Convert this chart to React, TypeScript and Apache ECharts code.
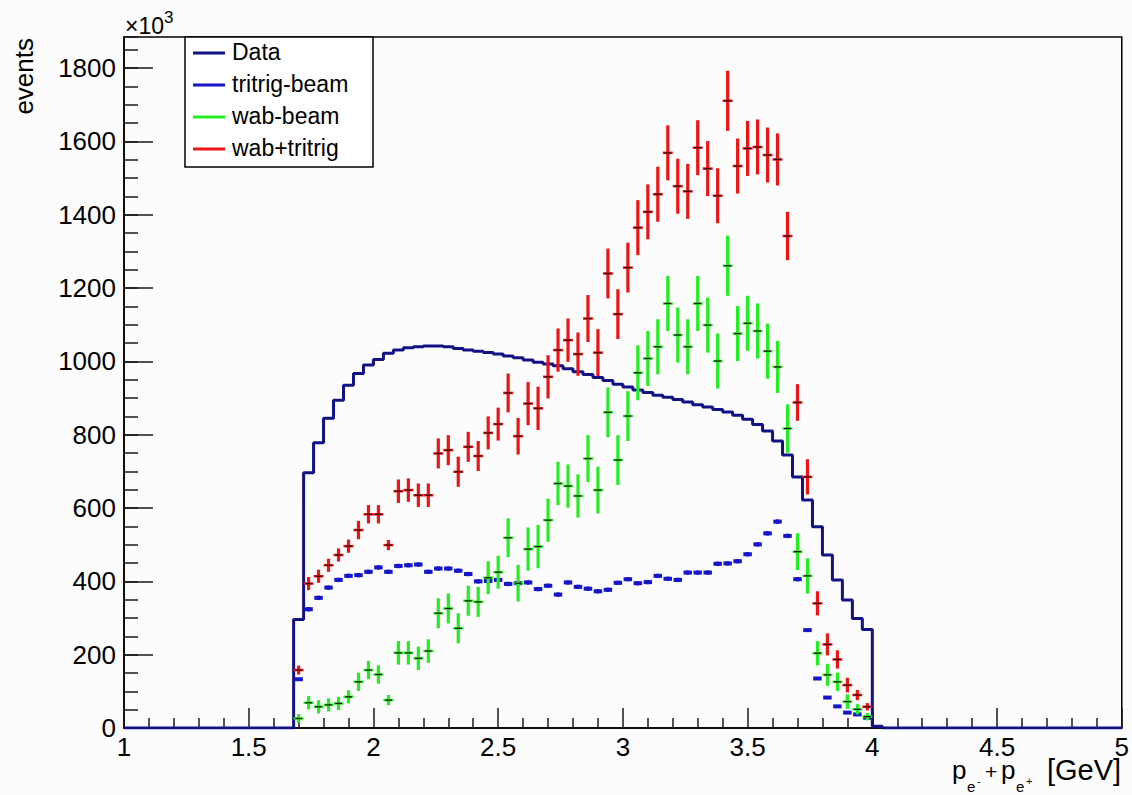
import React, { useEffect, useRef } from "react";
import * as echarts from "echarts";

// Histogram binning (GeV)
const axisMin = 1;
const axisMax = 5;
const binWidth = 0.04;
const firstFilledBin = 1.68; // low edge of first non-empty bin
const firstPointCenter = 1.7;

// "Data" histogram contents, bins starting at 1.68 GeV (x10^3 events)
const dataCounts = [
  296, 696, 778, 845, 894, 935, 967, 990, 1005, 1022,
  1031, 1037, 1040, 1042, 1042, 1040, 1035, 1031, 1028, 1024,
  1020, 1015, 1010, 1004, 998, 993, 988, 980, 972, 964,
  956, 948, 938, 930, 922, 915, 908, 902, 896, 889,
  882, 876, 869, 862, 853, 842, 828, 810, 783, 745,
  685, 622, 549, 472, 404, 349, 299, 269, 5,
];

// tritrig-beam points (bin centres from 1.70 GeV)
const tritrigBeam = [
  133, 324, 355, 383, 404, 415, 417, 426, 438, 426,
  442, 444, 446, 426, 435, 435, 429, 420, 400, 401,
  404, 393, 395, 397, 379, 388, 364, 397, 385, 380,
  373, 377, 396, 406, 395, 398, 415, 407, 404, 424,
  424, 424, 448, 449, 455, 474, 501, 531, 563, 524,
  406, 267, 135, 83, 59, 42, 37, 28,
];
const tritrigErr = [
  0, 6, 6, 6, 6, 6, 6, 6, 6, 6,
  6, 6, 6, 6, 6, 6, 6, 6, 6, 6,
  6, 6, 6, 6, 6, 6, 6, 6, 6, 6,
  6, 6, 6, 6, 6, 6, 6, 6, 6, 6,
  6, 6, 6, 6, 6, 6, 6, 6, 6, 6,
  6, 0, 0, 0, 0, 0, 0, 0,
];

// wab-beam points
const wabBeam = [
  26, 69, 58, 63, 67, 85, 126, 158, 146, 76,
  205, 205, 190, 210, 313, 326, 272, 347, 344, 410,
  425, 519, 395, 488, 495, 567, 667, 660, 633, 735,
  649, 861, 731, 851, 969, 1008, 1040, 1158, 1072, 1040,
  1158, 1099, 1001, 1261, 1076, 1104, 1083, 1028, 985, 817,
  481, 415, 204, 145, 126, 72, 51, 31,
];

// wab+tritrig points
const wabTritrig = [
  158, 394, 414, 444, 472, 496, 540, 583, 583, 499,
  646, 649, 635, 635, 749, 758, 699, 767, 742, 805,
  829, 914, 796, 885, 872, 958, 1031, 1058, 1020, 1117,
  1024, 1240, 1129, 1256, 1365, 1408, 1456, 1569, 1478, 1464,
  1583, 1526, 1452, 1711, 1533, 1581, 1585, 1563, 1551, 1342,
  888, 685, 340, 228, 187, 117, 90, 58,
];

// vertical error half-lengths
const wabErr = [
  12, 18, 18, 18, 18, 18, 25, 25, 25, 14,
  32, 32, 32, 32, 41, 41, 41, 41, 41, 45,
  45, 53, 50, 59, 59, 59, 59, 59, 59, 64,
  64, 68, 68, 68, 75, 75, 75, 75, 75, 75,
  75, 75, 75, 82, 75, 75, 75, 75, 71, 66,
  50, 48, 33, 30, 25, 20, 14, 10,
];

const yMaxValue = 1885;
const yMajor = 200;
const yMinor = 50;
const xMajor = 0.5;

const seriesNames = ["Data", "tritrig-beam", "wab-beam", "wab+tritrig"];
const colors = {
  data: "#121284",
  tritrig: "#1616c8",
  wab: "#22ee22",
  sum: "#ec1515",
};

const FONT = "'Liberation Sans', Arial, Helvetica, sans-serif";

function round2(v: number) {
  return Math.round(v * 10000) / 10000;
}

function buildHistogram(): number[][] {
  const nBins = Math.round((axisMax - axisMin) / binWidth);
  const offset = Math.round((firstFilledBin - axisMin) / binWidth);
  const pts: number[][] = [];
  for (let k = 0; k < nBins; k++) {
    const j = k - offset;
    const v = j >= 0 && j < dataCounts.length ? dataCounts[j] : 0;
    pts.push([round2(axisMin + k * binWidth), v]);
  }
  pts.push([axisMax, 0]);
  return pts;
}

function buildPoints(vals: number[], errs: number[]): number[][] {
  return vals.map((v, i) => [round2(firstPointCenter + i * binWidth), v, errs[i]]);
}

function makeRender(
  color: string,
  half: number,
  vW: number,
  hW: number,
  mark: boolean
) {
  return (_params: any, api: any) => {
    const x = api.value(0) as number;
    const y = api.value(1) as number;
    const e = api.value(2) as number;
    const c = api.coord([x, y]);
    const top = api.coord([x, y + e]);
    const bot = api.coord([x, Math.max(0, y - e)]);
    const l = api.coord([x - half, y]);
    const r = api.coord([x + half, y]);
    const children: any[] = [];
    if (e > 0) {
      children.push({
        type: "line",
        shape: { x1: c[0], y1: top[1], x2: c[0], y2: bot[1] },
        style: { stroke: color, lineWidth: vW },
      });
    }
    children.push({
      type: "line",
      shape: { x1: l[0], y1: c[1], x2: r[0], y2: c[1] },
      style: { stroke: color, lineWidth: hW },
    });
    if (mark) {
      children.push({
        type: "line",
        shape: { x1: c[0] - 3.5, y1: c[1], x2: c[0] + 3.5, y2: c[1] },
        style: { stroke: "#2a1010", lineWidth: 1.3 },
      });
    }
    return { type: "group", children };
  };
}

function txt(
  text: string,
  x: number,
  y: number,
  fontSize: number,
  extra: any = {}
) {
  return {
    type: "text",
    z: 100,
    x,
    y,
    ...extra,
    style: {
      text,
      fontSize,
      fontFamily: FONT,
      fill: "#000",
      align: "left",
      verticalAlign: "middle",
      lineHeight: Math.round(fontSize * 0.8),
      ...(extra.style || {}),
    },
  };
}

export default function App() {
  const ref = useRef<HTMLDivElement>(null);

  useEffect(() => {
    if (!ref.current) return;
    const chart = echarts.init(ref.current, undefined, { renderer: "svg" });

    const tickStyle = { color: "#1a1a1a", width: 1.5 };

    const legendRows = [
      { name: seriesNames[0], color: colors.data, y: 53 },
      { name: seriesNames[1], color: colors.tritrig, y: 85 },
      { name: seriesNames[2], color: colors.wab, y: 117 },
      { name: seriesNames[3], color: colors.sum, y: 149 },
    ];

    const graphic: any[] = [
      {
        type: "rect",
        z: 100,
        shape: { x: 185, y: 37, width: 188, height: 130 },
        style: { fill: "#ffffff", stroke: "#000", lineWidth: 1.5 },
      },
      ...legendRows.flatMap((r) => [
        {
          type: "line",
          z: 101,
          shape: { x1: 193, y1: r.y, x2: 225, y2: r.y },
          style: { stroke: r.color, lineWidth: 3 },
        },
        txt(r.name, 232, r.y - 1, 23, { z: 101 }),
      ]),
      txt("×10", 125, 26, 23),
      txt("3", 164, 17, 17),
      txt("events", 24, 38, 26, {
        rotation: Math.PI / 2,
        style: { align: "right" },
      }),
      // x-axis title: p_{e^-} + p_{e^+} [GeV]
      txt("p", 952, 770, 26),
      txt("e", 967, 786, 15),
      txt("-", 977, 781, 11),
      txt("+", 985, 771, 21),
      txt("p", 1001, 770, 26),
      txt("e", 1016, 786, 15),
      txt("+", 1026, 781, 11),
      txt("[GeV]", 1047, 770, 29),
    ];

    chart.setOption({
      animation: false,
      backgroundColor: "#fcfcfc",
      textStyle: { fontFamily: FONT },
      grid: {
        left: 124,
        top: 37,
        width: 1000,
        height: 691,
        show: true,
        borderColor: "#000",
        borderWidth: 1.5,
        backgroundColor: "transparent",
      },
      xAxis: {
        type: "value",
        min: axisMin,
        max: axisMax,
        interval: xMajor,
        axisLine: { show: true, lineStyle: { color: "#000", width: 1.5 } },
        axisTick: { show: true, inside: true, length: 20, lineStyle: tickStyle },
        minorTick: { show: true, splitNumber: 5, length: 10, lineStyle: tickStyle },
        splitLine: { show: false },
        minorSplitLine: { show: false },
        axisLabel: {
          fontSize: 26,
          lineHeight: 20,
          color: "#000",
          margin: 9,
          fontFamily: FONT,
          formatter: (v: number) => String(v),
        },
      },
      yAxis: [
        {
          type: "value",
          min: 0,
          max: yMaxValue,
          interval: yMajor,
          position: "left",
          axisLine: { show: true, lineStyle: { color: "#000", width: 1.5 } },
          axisTick: { show: true, inside: true, length: 29, lineStyle: tickStyle },
          splitLine: { show: false },
          axisLabel: {
            fontSize: 26,
            color: "#000",
            margin: 8,
            fontFamily: FONT,
            showMaxLabel: false,
            formatter: (v: number) => (v % yMajor === 0 ? String(v) : ""),
          },
        },
        {
          type: "value",
          min: 0,
          max: yMaxValue,
          interval: yMinor,
          position: "left",
          axisLine: { show: false },
          axisTick: { show: true, inside: true, length: 14, lineStyle: tickStyle },
          splitLine: { show: false },
          axisLabel: { show: false },
        },
      ],
      series: [
        {
          name: seriesNames[0],
          type: "line",
          step: "end",
          symbol: "none",
          yAxisIndex: 0,
          z: 2,
          lineStyle: { color: colors.data, width: 3 },
          data: buildHistogram(),
        },
        {
          name: seriesNames[1],
          type: "custom",
          yAxisIndex: 0,
          z: 3,
          encode: { x: 0, y: 1 },
          renderItem: makeRender(colors.tritrig, 0.017, 3, 4, false),
          data: buildPoints(tritrigBeam, tritrigErr),
        },
        {
          name: seriesNames[2],
          type: "custom",
          yAxisIndex: 0,
          z: 4,
          encode: { x: 0, y: 1 },
          renderItem: makeRender(colors.wab, 0.02, 3.2, 2.5, true),
          data: buildPoints(wabBeam, wabErr),
        },
        {
          name: seriesNames[3],
          type: "custom",
          yAxisIndex: 0,
          z: 5,
          encode: { x: 0, y: 1 },
          renderItem: makeRender(colors.sum, 0.02, 3.2, 2.5, true),
          data: buildPoints(wabTritrig, wabErr),
        },
      ],
      graphic,
    });

    return () => {
      chart.dispose();
    };
  }, []);

  return (
    <div
      ref={ref}
      style={{ position: "fixed", left: 0, top: 0, width: 1132, height: 795 }}
    />
  );
}
